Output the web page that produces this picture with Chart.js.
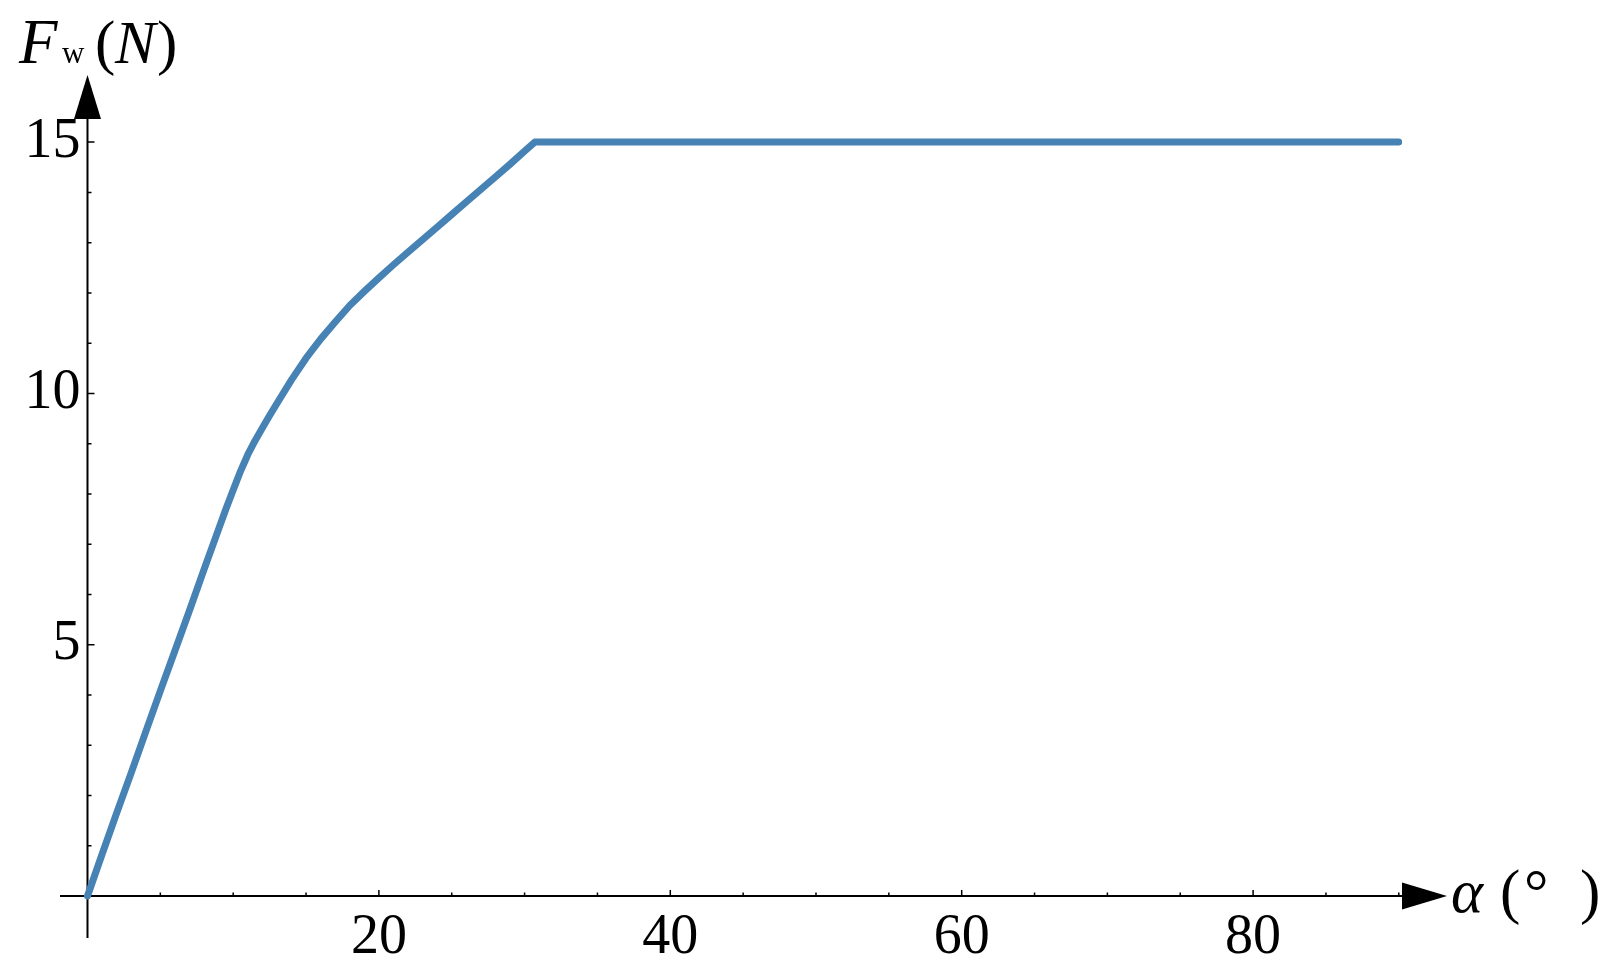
<!DOCTYPE html>
<html>
<head>
<meta charset="utf-8">
<script src="https://cdn.jsdelivr.net/npm/chart.js@4.4.1/dist/chart.umd.min.js"></script>
<style>
  html, body { margin: 0; padding: 0; background: #fff; }
  #wrap { width: 1616px; height: 975px; position: relative; }
</style>
</head>
<body>
<div id="wrap"><canvas id="chart"></canvas></div>
<script>
// angle alpha (deg) and force F_w (N)
const alphaDeg = [0, 1, 2, 3, 4, 5, 6, 7, 8, 9, 9.5, 10, 10.5, 11, 11.5, 12, 12.5, 13, 14, 15,
  16, 17, 18, 19, 20, 21, 22, 23, 24, 25, 26, 27, 28, 29, 30, 30.7, 90];
const forceN = [0, 0.83, 1.65, 2.45, 3.27, 4.08, 4.88, 5.68, 6.5, 7.3, 7.7, 8.08, 8.45, 8.78,
  9.06, 9.31, 9.56, 9.8, 10.27, 10.7, 11.08, 11.42, 11.75, 12.03, 12.3, 12.56, 12.81, 13.06,
  13.31, 13.56, 13.81, 14.06, 14.31, 14.56, 14.82, 15, 15];

const xTickValues = [5, 10, 15, 20, 25, 30, 35, 40, 45, 50, 55, 60, 65, 70, 75, 80, 85, 90];
const xTickLabels = [20, 40, 60, 80];
const yTickValues = [1, 2, 3, 4, 5, 6, 7, 8, 9, 10, 11, 12, 13, 14, 15];
const yTickLabels = [5, 10, 15];

const serif = '"Liberation Serif", "Times New Roman", serif';

const axesPlugin = {
  id: 'axes',
  beforeDatasetsDraw(chart) {
    const {ctx, chartArea, scales: {x, y}} = chart;
    const x0 = x.getPixelForValue(0);
    const y0 = y.getPixelForValue(0);
    ctx.save();
    ctx.strokeStyle = '#000';
    ctx.fillStyle = '#000';
    ctx.lineWidth = 2;
    ctx.beginPath();
    ctx.moveTo(chartArea.left, y0);
    ctx.lineTo(chartArea.right, y0);
    ctx.moveTo(x0, chartArea.bottom);
    ctx.lineTo(x0, chartArea.top);
    ctx.stroke();

    // tick marks point into the plot
    ctx.lineWidth = 1.5;
    ctx.beginPath();
    xTickValues.forEach(v => {
      const px = x.getPixelForValue(v);
      const len = xTickLabels.includes(v) ? 6 : 3.5;
      ctx.moveTo(px, y0);
      ctx.lineTo(px, y0 - len);
    });
    yTickValues.forEach(v => {
      const py = y.getPixelForValue(v);
      const len = yTickLabels.includes(v) ? 7 : 4;
      ctx.moveTo(x0, py);
      ctx.lineTo(x0 + len, py);
    });
    ctx.stroke();

    // arrow heads
    ctx.beginPath();
    ctx.moveTo(chartArea.right, y0 - 13.5);
    ctx.lineTo(chartArea.right + 45, y0);
    ctx.lineTo(chartArea.right, y0 + 13.5);
    ctx.closePath();
    ctx.fill();
    ctx.beginPath();
    ctx.moveTo(x0 - 13.5, chartArea.top + 1);
    ctx.lineTo(x0, chartArea.top - 43);
    ctx.lineTo(x0 + 13.5, chartArea.top + 1);
    ctx.closePath();
    ctx.fill();
    ctx.restore();
  },
  afterDraw(chart) {
    const {ctx} = chart;
    ctx.save();
    ctx.fillStyle = '#000';
    ctx.textBaseline = 'alphabetic';
    ctx.textAlign = 'left';
    // y title: F_w (N)
    ctx.font = 'italic 63px ' + serif;
    ctx.fillText('F', 19, 63);
    ctx.font = '31px ' + serif;
    ctx.fillText('w', 62, 63);
    ctx.font = '61px ' + serif;
    ctx.fillText('(', 95, 63);
    ctx.font = 'italic 61px ' + serif;
    ctx.fillText('N', 115, 63);
    ctx.font = '61px ' + serif;
    ctx.fillText(')', 157, 63);
    // x title: alpha (deg)
    ctx.font = 'italic 61px ' + serif;
    ctx.fillText('α', 1451, 912);
    ctx.font = '61px ' + serif;
    ctx.fillText('(', 1500, 912);
    ctx.fillText('°', 1524, 912);
    ctx.fillText(')', 1580, 912);
    ctx.restore();
  }
};

new Chart(document.getElementById('chart'), {
  type: 'line',
  data: {
    datasets: [{
      data: alphaDeg.map((a, i) => ({x: a, y: forceN[i]})),
      borderColor: '#4682b4',
      borderWidth: 7,
      borderCapStyle: 'round',
      borderJoinStyle: 'round',
      pointRadius: 0,
      tension: 0,
      fill: false
    }]
  },
  options: {
    responsive: true,
    maintainAspectRatio: false,
    animation: false,
    layout: { padding: { left: 60, right: 214, top: 118, bottom: 37 } },
    plugins: { legend: { display: false }, tooltip: { enabled: false } },
    scales: {
      x: {
        type: 'linear',
        min: -1.887,
        max: 90.22,
        position: { y: 0 },
        grid: { display: false },
        border: { display: false },
        afterBuildTicks: s => { s.ticks = xTickValues.map(v => ({value: v})); },
        ticks: {
          autoSkip: false,
          maxRotation: 0,
          padding: 1,
          color: '#000',
          font: { family: serif, size: 56 },
          callback: v => xTickLabels.includes(v) ? String(v) : ''
        }
      },
      y: {
        type: 'linear',
        min: -0.836,
        max: 15.48,
        // labels sit just left of the vertical axis
        position: { x: -0.48 },
        grid: { display: false },
        border: { display: false },
        afterBuildTicks: s => { s.ticks = yTickValues.map(v => ({value: v})); },
        ticks: {
          autoSkip: false,
          padding: 0,
          color: '#000',
          font: { family: serif, size: 56, lineHeight: 0.8 },
          callback: v => yTickLabels.includes(v) ? String(v) : ''
        }
      }
    }
  },
  plugins: [axesPlugin]
});
</script>
</body>
</html>
